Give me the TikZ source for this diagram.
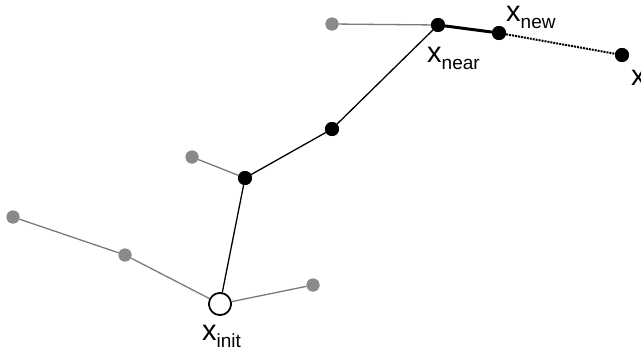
\documentclass[tikz,border=0pt]{standalone}
\usepackage{fontspec}
\setmainfont{Liberation Sans}
\definecolor{tgray}{HTML}{8A8A8A}
\definecolor{egray}{HTML}{7A7A7A}
\tikzset{
  bdot/.style={circle,fill=black,inner sep=0pt,minimum size=14pt},
  gdot/.style={circle,fill=tgray,inner sep=0pt,minimum size=13pt},
  odot/.style={circle,draw=black,fill=white,line width=1.6pt,inner sep=0pt,minimum size=22pt},
  gedge/.style={egray,line width=1.3pt},
  bedge/.style={black,line width=1.3pt},
  lbl/.style={inner sep=0pt,anchor=base west},
}
\newcommand{\xlab}[1]{\fontsize{29}{29}\selectfont x\raisebox{-7pt}{\fontsize{19}{19}\selectfont #1}}
\begin{document}
\begin{tikzpicture}[x=1pt,y=-1pt]
\useasboundingbox (0,0) rectangle (641,354);
% nodes
\node[gdot] (g1) at (13,217) {};
\node[gdot] (g2) at (125,255) {};
\node[gdot] (g3) at (313,285) {};
\node[gdot] (g4) at (192,157) {};
\node[gdot] (g5) at (332,24) {};
\node[bdot] (b1) at (245,178) {};
\node[bdot] (b2) at (332,129) {};
\node[bdot] (near) at (438,25) {};
\node[bdot] (new) at (499,33) {};
\node[bdot] (xr) at (622,55) {};
\node[odot] (init) at (220,304) {};
% edges
\draw[gedge] (g1) -- (g2);
\draw[gedge] (g2) -- (init);
\draw[gedge] (init) -- (g3);
\draw[gedge] (b1) -- (g4);
\draw[gedge] (g5) -- (near);
\draw[bedge] (init) -- (b1);
\draw[bedge] (b1) -- (b2);
\draw[bedge] (b2) -- (near);
\draw[black,line width=3pt] (near) -- (new);
\draw[black,line width=2pt,dash pattern=on 2pt off 1pt] (new) -- (xr);
% redraw dots on top
\node[gdot] at (13,217) {};
\node[gdot] at (125,255) {};
\node[gdot] at (313,285) {};
\node[gdot] at (192,157) {};
\node[gdot] at (332,24) {};
\node[bdot] at (245,178) {};
\node[bdot] at (332,129) {};
\node[bdot] at (438,25) {};
\node[bdot] at (499,33) {};
\node[bdot] at (622,55) {};
\node[odot] at (220,304) {};
% labels
\node[lbl] (linit) at (202,340) {\xlab{init}};
\node[lbl] (lnear) at (427,62) {\xlab{near}};
\node[lbl] (lnew) at (506,21) {\xlab{new}};
\node[lbl] (lx) at (631,85) {\fontsize{29}{29}\selectfont x};
\end{tikzpicture}
\end{document}
